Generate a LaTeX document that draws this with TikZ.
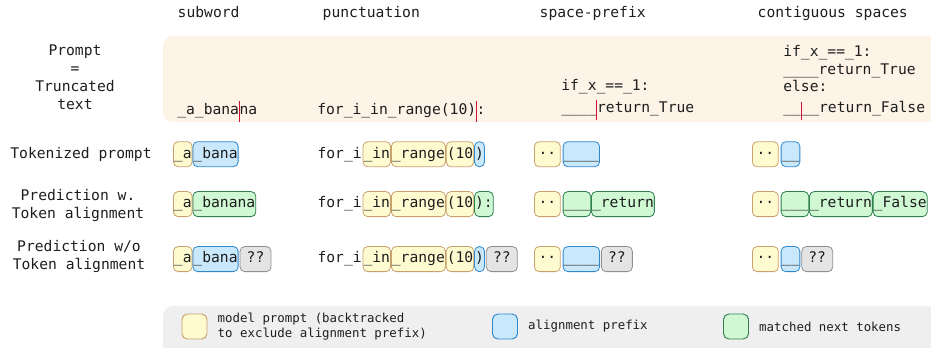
\documentclass[tikz,border=0pt]{standalone}
\usepackage{fontspec}
\newfontfamily\monofont{DejaVu Sans Mono}
\usetikzlibrary{positioning}
\definecolor{txt}{HTML}{1E1E1E}
\definecolor{panelbg}{HTML}{FDF3E7}
\definecolor{legendbg}{HTML}{EFEFEF}
\definecolor{prmfill}{HTML}{FFFBD1}
\definecolor{prmline}{HTML}{C9A06E}
\definecolor{alifill}{HTML}{C9E8FB}
\definecolor{aliline}{HTML}{2D88CE}
\definecolor{hitfill}{HTML}{CFF8D3}
\definecolor{hitline}{HTML}{2F7F4F}
\definecolor{unkfill}{HTML}{E4E4E4}
\definecolor{unkline}{HTML}{8F8F8F}
\definecolor{cursorred}{HTML}{D0103A}
\tikzset{
  prmcol/.style={fill=prmfill, draw=prmline},
  alicol/.style={fill=alifill, draw=aliline},
  hitcol/.style={fill=hitfill, draw=hitline},
  unkcol/.style={fill=unkfill, draw=unkline},
  tok/.style={draw, rounded corners=3.5pt, line width=0.6pt, inner xsep=0.4pt, inner ysep=3.9pt, text height=8.4pt, text depth=2.6pt},
  prm/.style={tok, prmcol},
  ali/.style={tok, alicol},
  hit/.style={tok, hitcol},
  unk/.style={tok, unkcol, inner xsep=5pt},
  dots/.style={prm, inner xsep=3.1pt},
  bare/.style={tok, draw=none},
  line/.style={inner sep=0pt, anchor=base west, text height=8.4pt, text depth=2.6pt},
  cursor/.style={draw=cursorred, line width=0.8pt},
  swatch/.style={draw, rounded corners=4pt, line width=0.7pt, minimum size=18.75pt, inner sep=0pt},
  legendtext/.style={font=\monofont\fontsize{9.3}{11.25}\selectfont, align=left, inner sep=0pt}
}
\begin{document}
\begin{tikzpicture}[x=0.75pt, y=-0.75pt, font=\monofont\fontsize{11}{13.5}\selectfont, text=txt]
\useasboundingbox (0,0) rectangle (931,347);

\fill[panelbg, rounded corners=7.5pt] (163,36) rectangle (945,122);
\fill[legendbg, rounded corners=7.5pt] (163,306) rectangle (945,360);

\node[anchor=base west] (h1) at (173,17) {subword};
\node[anchor=base west] (h2) at (318,17) {punctuation};
\node[anchor=base west] (h3) at (535,17) {space-prefix};
\node[anchor=base west] (h4) at (753,17) {contiguous spaces};

\node[align=center, inner sep=0pt] (l0) at (75,77.5) {Prompt\\=\\Truncated\\text};
\node[anchor=base] (l1) at (81,158) {Tokenized prompt};
\node[align=center, inner sep=0pt] (l2) at (78,205.5) {Prediction w.\\Token alignment};
\node[align=center, inner sep=0pt] (l3) at (79,256.6) {Prediction w/o\\Token alignment};

% prompt = truncated text
\node[line] (sw0a) at (177,114) {\_a\_bana};
\node[line] (sw0b) at (sw0a.base east) {na};
\draw[cursor] ([yshift=1pt]sw0a.north east) -- ([yshift=-3pt]sw0a.south east);

\node[line] (pu0a) at (317,114) {for\_i\_in\_range(10)};
\node[line] (pu0b) at (pu0a.base east) {:};
\draw[cursor] ([yshift=1.5pt]pu0a.north east) -- ([yshift=-3pt]pu0a.south east);

\node[line] (sp0a) at (561,90.5) {if\_x\_==\_1:};
\node[line] (sp0b) at (561,112.5) {\_\_\_\_};
\node[line] (sp0c) at (sp0b.base east) {return\_True};
\draw[cursor] ([yshift=1pt]sp0b.north east) -- ([yshift=-2.5pt]sp0b.south east);

\node[line] (cs0a) at (783,56.5) {if\_x\_==\_1:};
\node[line] (cs0b) at (783,74) {\_\_\_\_return\_True};
\node[line] (cs0c) at (783,91.5) {else:};
\node[line] (cs0d) at (783,112.5) {\_\_};
\node[line] (cs0e) at (cs0d.base east) {\_\_return\_False};
\draw[cursor] ([yshift=-1pt]cs0d.north east) -- ([yshift=-3pt]cs0d.south east);

% tokenized prompt
\node[prm, anchor=west] (sw1a) at (173,154.2) {\_a};
\node[ali, right=0pt of sw1a] (sw1b) {\_bana};

\node[bare, anchor=west] (pu1a) at (316.6,154.2) {for\_i};
\node[prm, right=0pt of pu1a] (pu1b) {\_in};
\node[prm, right=0pt of pu1b] (pu1c) {\_range};
\node[prm, right=0pt of pu1c] (pu1d) {(10};
\node[ali, right=0pt of pu1d] (pu1e) {)};

\node[dots, anchor=west] (sp1a) at (534,154.2) {··};
\node[ali, right=1.5pt of sp1a] (sp1b) {\_\_\_\_};

\node[dots, anchor=west] (cs1a) at (752,154.2) {··};
\node[ali, right=1.5pt of cs1a] (cs1b) {\_\_};

% prediction with token alignment
\node[prm, anchor=west] (sw2a) at (173,204.1) {\_a};
\node[hit, right=0pt of sw2a] (sw2b) {\_banana};

\node[bare, anchor=west] (pu2a) at (316.6,204.1) {for\_i};
\node[prm, right=0pt of pu2a] (pu2b) {\_in};
\node[prm, right=0pt of pu2b] (pu2c) {\_range};
\node[prm, right=0pt of pu2c] (pu2d) {(10};
\node[hit, right=0pt of pu2d] (pu2e) {):};

\node[dots, anchor=west] (sp2a) at (534,204.1) {··};
\node[hit, right=1.5pt of sp2a] (sp2b) {\_\_\_};
\node[hit, right=0pt of sp2b] (sp2c) {\_return};

\node[dots, anchor=west] (cs2a) at (752,204.1) {··};
\node[hit, right=1.5pt of cs2a] (cs2b) {\_\_\_};
\node[hit, right=0pt of cs2b] (cs2c) {\_return};
\node[hit, right=0pt of cs2c] (cs2d) {\_False};

% prediction without token alignment
\node[prm, anchor=west] (sw3a) at (173,259.1) {\_a};
\node[ali, right=0pt of sw3a] (sw3b) {\_bana};
\node[unk, right=0.8pt of sw3b] (sw3c) {??};

\node[bare, anchor=west] (pu3a) at (316.6,259.1) {for\_i};
\node[prm, right=0pt of pu3a] (pu3b) {\_in};
\node[prm, right=0pt of pu3b] (pu3c) {\_range};
\node[prm, right=0pt of pu3c] (pu3d) {(10};
\node[ali, right=0pt of pu3d] (pu3e) {)};
\node[unk, right=0.8pt of pu3e] (pu3f) {??};

\node[dots, anchor=west] (sp3a) at (534,259.1) {··};
\node[ali, right=1.5pt of sp3a] (sp3b) {\_\_\_\_};
\node[unk, right=0.8pt of sp3b] (sp3c) {??};

\node[dots, anchor=west] (cs3a) at (752,259.1) {··};
\node[ali, right=1.5pt of cs3a] (cs3b) {\_\_};
\node[unk, right=0.8pt of cs3b] (cs3c) {??};

% legend
\node[swatch, prmcol] (lg1) at (194.5,326.5) {};
\node[legendtext, right=7.5pt of lg1] (lt1) {model prompt (backtracked\\to exclude alignment prefix)};
\node[swatch, alicol] (lg2) at (505,326.5) {};
\node[legendtext, right=7.5pt of lg2] (lt2) {alignment prefix};
\node[swatch, hitcol] (lg3) at (736,326.5) {};
\node[legendtext, right=7.5pt of lg3] (lt3) {matched next tokens};
\end{tikzpicture}
\end{document}
